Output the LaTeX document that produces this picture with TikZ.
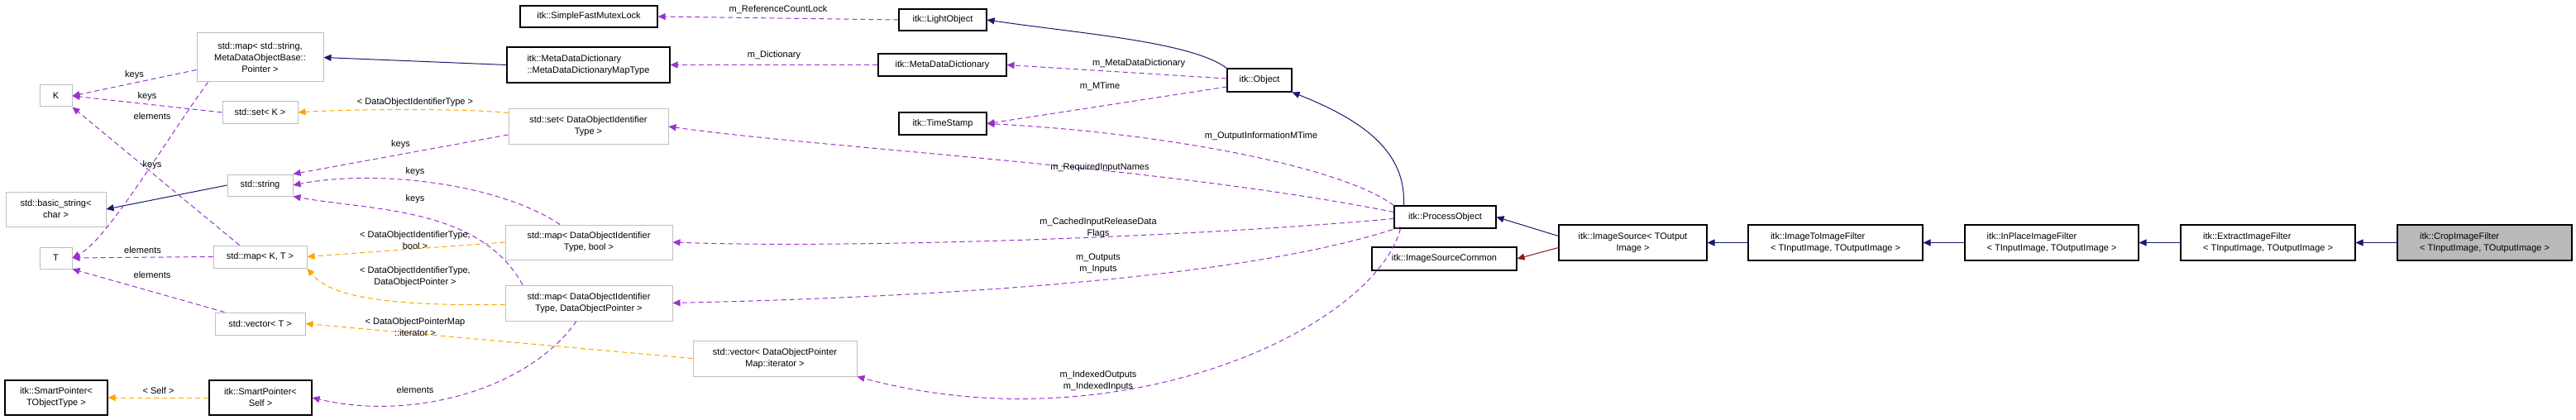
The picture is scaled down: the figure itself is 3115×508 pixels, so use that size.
\documentclass[tikz,border=0pt]{standalone}
\usepackage{fontspec}
\setmainfont{Liberation Sans}
\usetikzlibrary{arrows.meta}
\definecolor{purp}{HTML}{9A32CD}
\definecolor{orng}{HTML}{FFA500}
\definecolor{navy}{HTML}{191970}
\definecolor{dred}{HTML}{8B1A1A}
\begin{document}
\begin{tikzpicture}[x=1pt,y=-1pt,font=\fontsize{11}{14}\selectfont,
 box/.style={draw=black,line width=1.1pt,fill=white,inner sep=0pt},
 sbox/.style={draw=black!25,line width=1pt,fill=white,inner sep=0pt},
 use/.style={draw=purp,dashed,dash pattern=on 6pt off 4pt,line width=1pt,-{Triangle[length=9pt,width=8pt]}},
 tmpl/.style={draw=orng,dashed,dash pattern=on 6pt off 4pt,line width=1pt,-{Triangle[length=9pt,width=8pt]}},
 inh/.style={draw=navy,line width=1pt,-{Triangle[length=9pt,width=8pt]}},
 lab/.style={inner sep=0pt,align=center}]
\useasboundingbox (0,0) rectangle (3115,508);
% nodes
\node[box,minimum width=166,minimum height=26] (sfm) at (712,20) {itk::SimpleFastMutexLock};
\node[sbox,minimum width=153,minimum height=59,align=center] (mdmap) at (314.5,69.5) {std::map< std::string,\\MetaDataObjectBase::\\Pointer >};
\node[box,minimum width=197,minimum height=43,align=left] (mdt) at (711.5,78.5) {itk::MetaDataDictionary\\::MetaDataDictionaryMapType};
\node[sbox,minimum width=39,minimum height=26] (K) at (67.5,116) {K};
\node[sbox,minimum width=91,minimum height=26] (setK) at (314.5,136) {std::set< K >};
\node[sbox,minimum width=193,minimum height=42,align=center] (setD) at (711.5,153) {std::set< DataObjectIdentifier\\Type >};
\node[sbox,minimum width=79,minimum height=26] (str) at (314.5,224) {std::string};
\node[sbox,minimum width=121,minimum height=42,align=center] (bstr) at (67.5,253) {std::basic\_string<\\char >};
\node[sbox,minimum width=39,minimum height=26] (T) at (67.5,312) {T};
\node[sbox,minimum width=113,minimum height=27] (mapKT) at (314.5,310.5) {std::map< K, T >};
\node[sbox,minimum width=202,minimum height=42,align=center] (mapDb) at (712,293) {std::map< DataObjectIdentifier\\Type, bool >};
\node[sbox,minimum width=202,minimum height=43,align=center] (mapDP) at (712,366.5) {std::map< DataObjectIdentifier\\Type, DataObjectPointer >};
\node[sbox,minimum width=109,minimum height=27] (vecT) at (314.5,391.5) {std::vector< T >};
\node[sbox,minimum width=198,minimum height=43,align=center] (vecI) at (937,433.5) {std::vector< DataObjectPointer\\Map::iterator >};
\node[box,minimum width=124,minimum height=42,align=center] (spT) at (68,481) {itk::SmartPointer<\\TObjectType >};
\node[box,minimum width=124,minimum height=42,align=center] (spS) at (315,481) {itk::SmartPointer<\\Self >};
\node[box,minimum width=106,minimum height=26] (lo) at (1140,24) {itk::LightObject};
\node[box,minimum width=155,minimum height=27] (mdd) at (1139.5,78.5) {itk::MetaDataDictionary};
\node[box,minimum width=78,minimum height=28] (obj) at (1523,97) {itk::Object};
\node[box,minimum width=106,minimum height=27] (ts) at (1140,149.5) {itk::TimeStamp};
\node[box,minimum width=123,minimum height=27] (po) at (1747.5,262.5) {itk::ProcessObject};
\node[box,minimum width=175,minimum height=28] (isc) at (1746.5,313) {itk::ImageSourceCommon};
\node[box,minimum width=179,minimum height=43,align=center] (is) at (1974.5,293.5) {itk::ImageSource< TOutput\\Image >};
\node[box,minimum width=211,minimum height=43,align=left] (i2i) at (2219.5,293.5) {itk::ImageToImageFilter\\< TInputImage, TOutputImage >};
\node[box,minimum width=210,minimum height=43,align=left] (ip) at (2481,293.5) {itk::InPlaceImageFilter\\< TInputImage, TOutputImage >};
\node[box,minimum width=211,minimum height=43,align=left] (ex) at (2742.5,293.5) {itk::ExtractImageFilter\\< TInputImage, TOutputImage >};
\node[box,fill=black!27,minimum width=211,minimum height=43,align=left] (cr) at (3004.5,293.5) {itk::CropImageFilter\\< TInputImage, TOutputImage >};
% inheritance
\draw[inh] (mdt.west) -- (mdmap.east);
\draw[inh] (str.west) -- (bstr.east);
\draw[inh] (obj.north west) .. controls (1440,50) and (1300,40) .. (lo.east);
\draw[inh] (po.north west) ++(12,0) .. controls (1700,190) and (1660,150) .. (obj.south east);
\draw[inh] (is.west |- po.east) ++(0,8) coordinate (isw) (is.west) ++(0,-8) -- (po.east);
\draw[draw=dred,line width=1pt,-{Triangle[length=9pt,width=8pt]}] (is.west) ++(0,6) -- (isc.east);
\draw[inh] (i2i.west) -- (is.east);
\draw[inh] (ip.west) -- (i2i.east);
\draw[inh] (ex.west) -- (ip.east);
\draw[inh] (cr.west) -- (ex.east);
% usage
\draw[use] (lo.west) -- node[lab,above=5pt]{m\_ReferenceCountLock} (sfm.east);
\draw[use] (mdd.west) -- node[lab,above=6pt]{m\_Dictionary} (mdt.east);
\draw[use] (obj.west) ++(0,-2) -- node[lab,above=6pt,pos=0.4]{m\_MetaDataDictionary} (mdd.east);
\draw[use] (obj.west) ++(0,8) -- node[lab,below=4pt,pos=0.4,xshift=0pt,yshift=-14pt]{} (ts.east);
\node[lab] (lmt) at (1330,105) {m\_MTime};
\draw[use] (po.north west) .. controls (1620,200) and (1400,160) .. (ts.east);
\node[lab] (lom) at (1525,165) {m\_OutputInformationMTime};
\draw[use] (po.west) ++(0,-6) .. controls (1400,200) and (1000,180) .. (setD.east);
\node[lab] (lrn) at (1330,203) {m\_RequiredInputNames};
\draw[use] (po.west) ++(0,2) .. controls (1400,290) and (1000,300) .. (mapDb.east);
\node[lab] (lci) at (1328,276) {m\_CachedInputReleaseData\\Flags};
\draw[use] (po.south west) ++(8,-2) .. controls (1500,340) and (1100,360) .. (mapDP.east);
\node[lab] (lio) at (1328,319) {m\_Outputs\\m\_Inputs};
\draw[use] (po.south west) ++(8,0) .. controls (1660,400) and (1350,540) .. (vecI.south east);
\node[lab] (lix) at (1328,461) {m\_IndexedOutputs\\m\_IndexedInputs};
\draw[use] (mdmap.west) ++(0,15) -- node[lab,above=4pt]{keys} (K.east);
\draw[use] (setK.west) -- node[lab,above=4pt]{keys} (K.east);
\draw[use] (mapKT.north) ++(-25,0) -- (K.south east);
\node[lab] (lk3) at (184,200) {keys};
\draw[use] (mdmap.south west) ++(14,0) .. controls (200,170) and (130,290) .. (T.east);
\node[lab] (le1) at (184,141) {elements};
\draw[use] (mapKT.west) -- node[lab,above=4pt]{elements} (T.east);
\draw[use] (vecT.north west) ++(12,0) -- (T.south east);
\node[lab] (le3) at (184,333) {elements};
\draw[use] (setD.west) ++(0,10) -- node[lab,above=6pt]{keys} (str.north east);
\draw[use] (mapDb.north) ++(-35,0) .. controls (600,220) and (450,205) .. (str.east);
\node[lab] (lk5) at (502,208) {keys};
\draw[use] (mapDP.north) ++(-80,0) .. controls (580,250) and (450,255) .. (str.south east);
\node[lab] (lk6) at (502,241) {keys};
\draw[use] (mapDP.south) ++(-15,0) .. controls (640,470) and (500,510) .. (spS.east);
\node[lab] (le4) at (502,472) {elements};
% templates
\draw[tmpl] (setD.north west) ++(0,5) .. controls (550,130) and (400,133) .. (setK.east);
\node[lab] (t1) at (502,124) {< DataObjectIdentifierType >};
\draw[tmpl] (mapDb.west) -- (mapKT.east);
\node[lab] (t2) at (502,291) {< DataObjectIdentifierType,\\bool >};
\draw[tmpl] (mapDP.west) ++(0,2) .. controls (470,370) and (400,360) .. (mapKT.south east);
\node[lab] (t3) at (502,335) {< DataObjectIdentifierType,\\DataObjectPointer >};
\draw[tmpl] (vecI.west) -- (vecT.east);
\node[lab] (t4) at (502,396) {< DataObjectPointerMap\\::iterator >};
\draw[tmpl] (spS.west) -- node[lab,above=4pt]{< Self >} (spT.east);
\end{tikzpicture}
\end{document}
